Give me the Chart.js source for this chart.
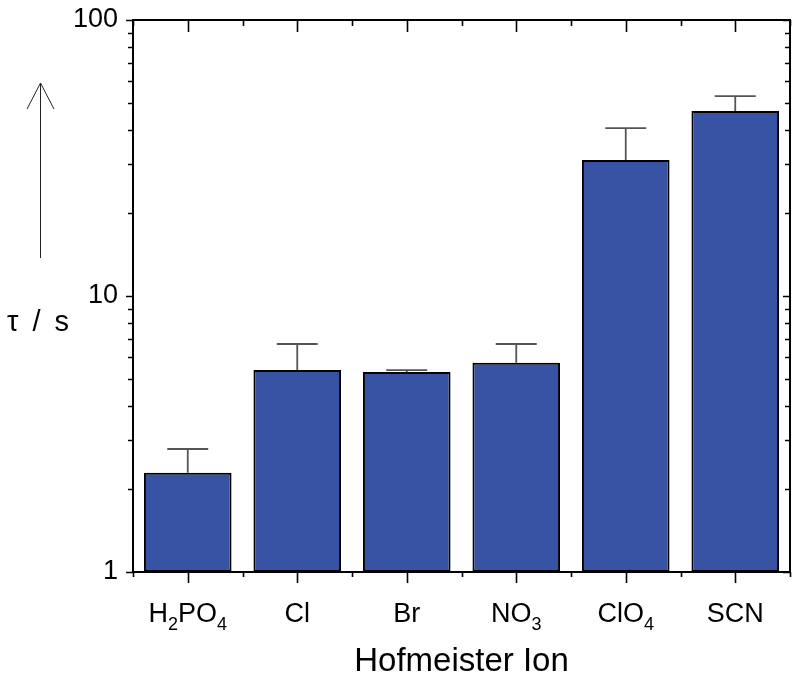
<!DOCTYPE html>
<html>
<head>
<meta charset="utf-8">
<script src="https://cdn.jsdelivr.net/npm/chart.js@4/dist/chart.umd.min.js"></script>
<style>
  html, body { margin: 0; padding: 0; background: #fff; }
  #wrap { width: 800px; height: 680px; position: relative; }
</style>
</head>
<body>
<div id="wrap"><canvas id="chart"></canvas></div>
<script>
// data
const ions = ['H2PO4', 'Cl', 'Br', 'NO3', 'ClO4', 'SCN'];
const tau = [2.29, 5.39, 5.30, 5.73, 31.1, 46.8];      // seconds
const tauErr = [0.50, 1.31, 0.09, 0.97, 9.5, 6.2];     // upper error only
const yTicks = [1, 10, 100];
const yMinor = [2, 3, 4, 5, 6, 7, 8, 9, 20, 30, 40, 50, 60, 70, 80, 90];
const xTitle = 'Hofmeister Ion';
const yTitle = 'τ / s';

const FONT = '"Liberation Sans", Arial, sans-serif';
const BAR_BLUE = '#3953a4';

// draws "H2PO4" style text with digits as subscripts, centred on cx
function drawChem(ctx, text, cx, baseline, size) {
  const parts = text.match(/\d+|\D+/g) || [];
  const subSize = Math.round(size * 0.66);
  let total = 0;
  const widths = parts.map((p) => {
    ctx.font = (/\d/.test(p) ? subSize : size) + 'px ' + FONT;
    const w = ctx.measureText(p).width;
    total += w;
    return w;
  });
  let x = cx - total / 2;
  ctx.textAlign = 'left';
  ctx.textBaseline = 'alphabetic';
  parts.forEach((p, i) => {
    const isSub = /\d/.test(p);
    ctx.font = (isSub ? subSize : size) + 'px ' + FONT;
    ctx.fillText(p, x, baseline + (isSub ? 8 : 0));
    x += widths[i];
  });
}

const errorBars = {
  id: 'errorBars',
  afterDatasetsDraw(chart) {
    const { ctx, scales: { x, y } } = chart;
    ctx.save();
    ctx.strokeStyle = '#555';
    ctx.lineWidth = 1.8;
    tau.forEach((v, i) => {
      const px = x.getPixelForValue(i);
      const top = y.getPixelForValue(v + tauErr[i]);
      const base = y.getPixelForValue(v);
      ctx.beginPath();
      ctx.moveTo(px, base);
      ctx.lineTo(px, top);
      ctx.moveTo(px - 20.5, top);
      ctx.lineTo(px + 20.5, top);
      ctx.stroke();
    });
    ctx.restore();
  }
};

const frame = {
  id: 'frame',
  afterDraw(chart) {
    const { ctx, chartArea: a, scales: { x, y } } = chart;
    ctx.save();
    ctx.strokeStyle = '#000';
    ctx.fillStyle = '#000';
    ctx.lineWidth = 2;
    ctx.strokeRect(a.left, a.top, a.right - a.left, a.bottom - a.top);

    ctx.lineWidth = 1.6;
    ctx.beginPath();
    // y ticks: left outward, right inward
    yTicks.concat(yMinor).forEach((v) => {
      const py = Math.round(y.getPixelForValue(v)) + 0.5;
      const len = yTicks.includes(v) ? 7 : 5;
      ctx.moveTo(a.left, py); ctx.lineTo(a.left - len, py);
      ctx.moveTo(a.right, py); ctx.lineTo(a.right - len, py);
    });
    // x ticks: major at centres, minor at category boundaries
    const step = (a.right - a.left) / ions.length;
    ions.forEach((_, i) => {
      const px = Math.round(x.getPixelForValue(i)) + 0.5;
      ctx.moveTo(px, a.bottom); ctx.lineTo(px, a.bottom + 11);
      ctx.moveTo(px, a.top); ctx.lineTo(px, a.top + 12);
    });
    for (let i = 0; i <= ions.length; i++) {
      const px = Math.round(a.left + i * step) + 0.5;
      ctx.moveTo(px, a.bottom); ctx.lineTo(px, a.bottom + 5);
      ctx.moveTo(px, a.top); ctx.lineTo(px, a.top + 6);
    }
    ctx.stroke();

    // y tick labels
    ctx.font = '27px ' + FONT;
    ctx.textAlign = 'right';
    ctx.textBaseline = 'middle';
    yTicks.forEach((v) => ctx.fillText(String(v), a.left - 15, y.getPixelForValue(v)));

    // x tick labels
    ions.forEach((name, i) => drawChem(ctx, name, x.getPixelForValue(i), 622, 27));

    // axis titles
    ctx.font = '33px ' + FONT;
    ctx.textAlign = 'center';
    ctx.textBaseline = 'alphabetic';
    ctx.fillText(xTitle, (a.left + a.right) / 2, 671);
    ctx.font = '29px ' + FONT;
    ctx.letterSpacing = '3px';
    ctx.fillText(yTitle, 39.5, 331);
    ctx.letterSpacing = '0px';

    // the arrow beside the y title
    ctx.strokeStyle = '#222';
    ctx.lineWidth = 1;
    ctx.beginPath();
    ctx.moveTo(40.5, 258); ctx.lineTo(40.5, 83);
    ctx.moveTo(27, 109); ctx.lineTo(40.5, 83); ctx.lineTo(54, 109);
    ctx.stroke();
    ctx.restore();
  }
};

new Chart(document.getElementById('chart'), {
  type: 'bar',
  data: {
    labels: ions,
    datasets: [{
      data: tau,
      backgroundColor: BAR_BLUE,
      borderColor: '#000',
      borderWidth: 2,
      borderSkipped: false,
      barPercentage: 0.8,
      categoryPercentage: 1
    }]
  },
  options: {
    responsive: true,
    maintainAspectRatio: false,
    animation: false,
    devicePixelRatio: 1,
    layout: { padding: { left: 133, top: 20, right: 10, bottom: 108 } },
    plugins: { legend: { display: false }, tooltip: { enabled: false } },
    scales: {
      x: { display: false, offset: true },
      y: { type: 'logarithmic', display: false, min: 1, max: 100 }
    }
  },
  plugins: [errorBars, frame]
});
</script>
</body>
</html>
